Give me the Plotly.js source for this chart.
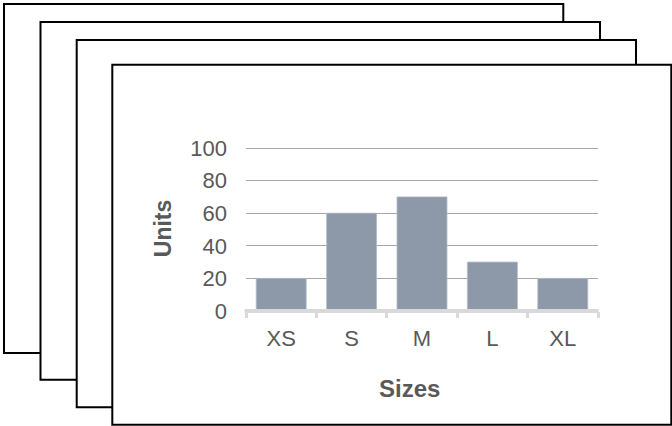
<!DOCTYPE html>
<html>
<head>
<meta charset="utf-8">
<script src="https://cdn.plot.ly/plotly-3.0.1.min.js"></script>
<style>
  html, body { margin: 0; padding: 0; background: #ffffff; }
  #chart { width: 672px; height: 426px; }
</style>
</head>
<body>
<div id="chart"></div>
<script>
// ---- data ----
var sizes = ['XS', 'S', 'M', 'L', 'XL'];
var units = [20, 60, 70, 30, 20];
var yTickVals = [0, 20, 40, 60, 80, 100];
var yTickText = ['0', '20', '40', '60', '80', '100'];
var xTitleText = 'Sizes';
var yTitleText = 'Units';

// ---- layout geometry (pixels) ----
var W = 672, Hh = 426;
var ML = 246, MR = 74, MT = 146, MB = 115;
var PW = W - ML - MR;            // plot width
var PH = Hh - MT - MB;           // plot height
var PB = MT + PH;                // plot bottom pixel
function px2x(px) { return (px - ML) / PW; }
function py2y(py) { return (PB - py) / PH; }

var textFont = 'Liberation Sans, Arial, Helvetica, sans-serif';
var textColor = '#595959';

// stacked "cards" behind the chart
var cards = [
  [4, 4, 563.3, 353],
  [40.5, 22, 600, 379.7],
  [76.7, 40, 636, 407.3],
  [112.3, 64.7, 671.3, 424.8]
];
var shapes = cards.map(function (c) {
  return {
    type: 'rect', xref: 'paper', yref: 'paper', layer: 'below',
    x0: px2x(c[0]), x1: px2x(c[2]), y0: py2y(c[3]), y1: py2y(c[1]),
    fillcolor: '#ffffff', line: { color: '#000000', width: 2 }
  };
});
// light baseline along the category axis
shapes.push({
  type: 'line', xref: 'paper', yref: 'paper', layer: 'above',
  x0: px2x(244.5), x1: px2x(598.5), y0: 0, y1: 0,
  line: { color: '#d9d9d9', width: 4 }
});

var trace = {
  type: 'bar',
  x: sizes,
  y: units,
  marker: { color: '#8d99a9', line: { color: '#b3bbc6', width: 0.8 } },
  hoverinfo: 'skip'
};

var layout = {
  width: W, height: Hh,
  margin: { l: ML, r: MR, t: MT, b: MB, pad: 0 },
  paper_bgcolor: '#ffffff',
  plot_bgcolor: 'rgba(0,0,0,0)',
  showlegend: false,
  bargap: 0.29,
  hovermode: false,
  font: { family: textFont, color: textColor },
  xaxis: {
    type: 'category',
    showgrid: false,
    zeroline: false,
    showline: false,
    ticks: 'outside',
    tickson: 'boundaries',
    ticklen: 6,
    tickwidth: 3,
    tickcolor: '#d9d9d9',
    ticklabelstandoff: 12,
    tickfont: { family: textFont, size: 22, color: textColor },
    fixedrange: true
  },
  yaxis: {
    range: [0, PH / 1.63],
    tickvals: yTickVals,
    ticktext: yTickText,
    showgrid: true,
    gridcolor: '#a6a6a6',
    gridwidth: 1,
    zeroline: false,
    showline: false,
    ticks: '',
    ticklabelstandoff: 18,
    tickfont: { family: textFont, size: 22, color: textColor },
    fixedrange: true
  },
  shapes: shapes,
  annotations: [
    {
      text: '<b>' + xTitleText + '</b>', xref: 'paper', yref: 'paper',
      x: px2x(409.5), y: py2y(388.7), xanchor: 'center', yanchor: 'middle',
      showarrow: false, font: { family: textFont, size: 24, color: textColor }
    },
    {
      text: '<b>' + yTitleText + '</b>', xref: 'paper', yref: 'paper',
      x: px2x(162.7), y: py2y(228.5), xanchor: 'center', yanchor: 'middle',
      textangle: -90,
      showarrow: false, font: { family: textFont, size: 23, color: textColor }
    }
  ]
};

Plotly.newPlot('chart', [trace], layout, { staticPlot: true, displayModeBar: false });
</script>
</body>
</html>
